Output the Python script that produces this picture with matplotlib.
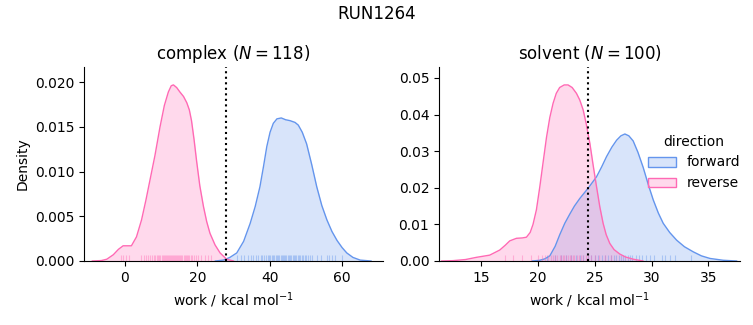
import matplotlib
matplotlib.use("Agg")
import matplotlib.pyplot as plt
from matplotlib.patches import Patch

# ---- data ----
suptitle = "RUN1264"
phases = ["complex", "solvent"]
n_samples = [118, 100]
free_energy = [27.8, 24.4]          # dotted vertical lines

# KDE curves (work, density)
complex_fwd_x = [25, 27.2, 29.0, 30.9, 32.8, 34.6, 36.0, 37.3, 38.3, 39.2, 40.1, 41.0, 42.0, 43.2, 44.4, 45.6, 47.0, 47.9, 49.0, 50.2, 51.6, 53.0, 54.4, 55.8, 57.2, 58.6, 60.0, 61.3, 63.0, 65.0, 68]
complex_fwd_y = [0, 0.0001, 0.0004, 0.0009, 0.0022, 0.0042, 0.0061, 0.0083, 0.0106, 0.0128, 0.0144, 0.0154, 0.0159, 0.0160, 0.0158, 0.0157, 0.0155, 0.0152, 0.0144, 0.0131, 0.0108, 0.0083, 0.0062, 0.0046, 0.0033, 0.0023, 0.0015, 0.0009, 0.0004, 0.0001, 0]
complex_rev_x = [-9, -6.5, -5, -3.2, -1.8, -0.5, 0.6, 1.8, 3.2, 4.6, 5.8, 6.9, 8.3, 9.7, 10.9, 12.0, 12.8, 13.4, 14.3, 15.2, 16.2, 17.1, 17.8, 18.4, 19.1, 19.8, 20.7, 21.7, 22.6, 23.5, 24.9, 26.3, 28.1, 30]
complex_rev_y = [0, 0.00005, 0.0002, 0.0007, 0.0013, 0.0017, 0.0017, 0.0017, 0.0027, 0.0046, 0.0068, 0.0090, 0.0118, 0.0150, 0.0174, 0.0189, 0.0196, 0.0197, 0.0194, 0.0189, 0.0184, 0.0177, 0.0169, 0.0157, 0.0136, 0.0112, 0.0084, 0.0061, 0.0044, 0.0031, 0.0018, 0.0009, 0.0002, 0]
solvent_fwd_x = [19.5, 20.15, 20.6, 21.03, 21.5, 21.91, 22.35, 22.79, 23.2, 23.68, 24.41, 25.15, 25.6, 26.03, 26.5, 26.92, 27.3, 27.65, 28.0, 28.38, 28.8, 29.26, 29.7, 30.15, 30.6, 31.03, 31.6, 32.21, 32.9, 33.68, 34.4, 35.15, 36.32, 37.5]
solvent_fwd_y = [0, 0.0002, 0.0006, 0.0014, 0.0040, 0.0072, 0.0103, 0.0128, 0.0150, 0.0171, 0.0199, 0.0230, 0.0257, 0.0285, 0.0311, 0.0330, 0.0342, 0.0347, 0.0342, 0.0328, 0.0297, 0.0256, 0.0210, 0.0167, 0.0131, 0.0103, 0.0078, 0.0057, 0.0039, 0.0025, 0.0014, 0.0007, 0.0002, 0]
solvent_rev_x = [11.5, 12.5, 13.6, 14.56, 15.73, 16.62, 17.1, 17.5, 18.09, 18.6, 18.97, 19.3, 19.55, 19.85, 20.15, 20.45, 20.74, 21.03, 21.32, 21.6, 21.9, 22.3, 22.64, 23.0, 23.38, 23.67, 23.97, 24.26, 24.56, 24.85, 25.15, 25.44, 25.73, 26.0, 26.32, 26.7, 27.2, 27.7, 28.38, 29.24]
solvent_rev_y = [0, 0.0001, 0.0004, 0.0010, 0.0016, 0.0030, 0.0043, 0.0055, 0.0062, 0.0063, 0.0065, 0.0078, 0.0100, 0.0140, 0.0203, 0.0272, 0.0338, 0.0392, 0.0431, 0.0458, 0.0474, 0.0481, 0.0481, 0.0474, 0.0458, 0.0440, 0.0413, 0.0372, 0.0322, 0.0262, 0.0203, 0.0148, 0.0103, 0.0072, 0.0048, 0.0031, 0.0019, 0.0011, 0.0005, 0]

# rug samples (approximate positions)
complex_fwd_rug = [30.9, 32.2, 32.9, 34.0, 34.8, 35.5, 36.3, 36.9, 37.5, 38.0, 38.5, 39.0, 39.4, 39.8, 40.2, 40.6, 41.0, 41.3, 41.7, 42.0, 42.3, 42.7, 43.0, 43.3, 43.6, 44.0, 44.3, 44.6, 45.0, 45.3, 45.7, 46.0, 46.3, 46.7, 47.0, 47.4, 47.8, 48.1, 48.5, 48.9, 49.3, 49.7, 50.1, 50.6, 51.1, 51.7, 53.0, 54.3, 55.7, 56.5, 57.3, 58.0, 60.0]
complex_rev_rug = [-1.2, -0.6, 0.2, 1.0, 4.5, 5.2, 5.9, 6.4, 7.0, 7.5, 7.9, 8.3, 8.8, 9.1, 9.5, 9.8, 10.2, 10.5, 10.8, 11.1, 11.4, 11.7, 12.0, 12.2, 12.5, 12.8, 13.0, 13.3, 13.6, 13.9, 14.1, 14.4, 14.7, 15.0, 15.3, 15.6, 15.9, 16.2, 16.5, 16.8, 17.1, 17.4, 17.8, 18.2, 18.6, 19.1, 19.6, 20.3, 21.0, 22.1, 23.0, 23.9]
solvent_fwd_rug = [20.8, 21.5, 22.0, 22.5, 22.9, 23.3, 23.7, 24.0, 24.4, 24.7, 25.0, 25.3, 25.6, 25.9, 26.2, 26.4, 26.7, 26.9, 27.1, 27.3, 27.5, 27.7, 27.9, 28.1, 28.3, 28.6, 28.9, 29.2, 29.5, 29.9, 30.2, 30.9, 31.2, 31.6, 32.1, 33.5]
solvent_rev_rug = [17.1, 17.8, 18.6, 19.4, 20.0, 20.3, 20.6, 20.9, 21.1, 21.3, 21.5, 21.7, 21.9, 22.0, 22.2, 22.3, 22.5, 22.6, 22.8, 22.9, 23.1, 23.2, 23.4, 23.6, 23.8, 24.0, 24.2, 24.4, 24.7, 25.0, 25.4, 25.9, 26.4]

x_limits = [(-11.3, 71.3), (11.26, 37.8)]
y_limits = [(0, 0.0217), (0, 0.053)]
x_ticks = [[0, 20, 40, 60], [15, 20, 25, 30, 35]]
y_ticks = [[0.000, 0.005, 0.010, 0.015, 0.020], [0.00, 0.01, 0.02, 0.03, 0.04, 0.05]]
y_ticklabels = [["0.000", "0.005", "0.010", "0.015", "0.020"], ["0.00", "0.01", "0.02", "0.03", "0.04", "0.05"]]

directions = ["forward", "reverse"]
colors = {"forward": "#6495ED", "reverse": "#FF69B4"}

curves = {
    ("complex", "forward"): (complex_fwd_x, complex_fwd_y, complex_fwd_rug),
    ("complex", "reverse"): (complex_rev_x, complex_rev_y, complex_rev_rug),
    ("solvent", "forward"): (solvent_fwd_x, solvent_fwd_y, solvent_fwd_rug),
    ("solvent", "reverse"): (solvent_rev_x, solvent_rev_y, solvent_rev_rug),
}

fig = plt.figure(figsize=(7.53, 3.25), dpi=100)
axes = [fig.add_axes([84 / 753, 64 / 325, 299 / 753, 194 / 325]),
        fig.add_axes([439 / 753, 64 / 325, 301 / 753, 194 / 325])]

for i, (ax, phase) in enumerate(zip(axes, phases)):
    for d in directions:
        xs, ys, rug = curves[(phase, d)]
        c = colors[d]
        ax.fill_between(xs, ys, 0, color=c, alpha=0.25, lw=0)
        ax.plot(xs, ys, color=c, lw=1.0)
        ax.vlines(rug, 0, 0.03, color=c, lw=0.8, alpha=0.4,
                  transform=ax.get_xaxis_transform())
    ax.axvline(free_energy[i], color="black", ls=":", lw=1.5)
    ax.set_xlim(*x_limits[i])
    ax.set_ylim(*y_limits[i])
    ax.set_xticks(x_ticks[i])
    ax.set_yticks(y_ticks[i])
    ax.set_yticklabels(y_ticklabels[i])
    ax.set_title(f"{phase} ($N = {n_samples[i]}$)", fontsize=12)
    ax.set_xlabel("work / kcal mol$^{-1}$")
    ax.spines["top"].set_visible(False)
    ax.spines["right"].set_visible(False)

axes[0].set_ylabel("Density")

fig.suptitle(suptitle, fontsize=12, y=0.985)

handles = [Patch(facecolor=matplotlib.colors.to_rgba(colors[d], 0.25),
                 edgecolor=colors[d], lw=1.0) for d in directions]
fig.legend(handles, directions, title="direction", loc="center right",
           frameon=False, bbox_to_anchor=(1.0, 0.5))

fig.savefig("out.png", dpi=100)
